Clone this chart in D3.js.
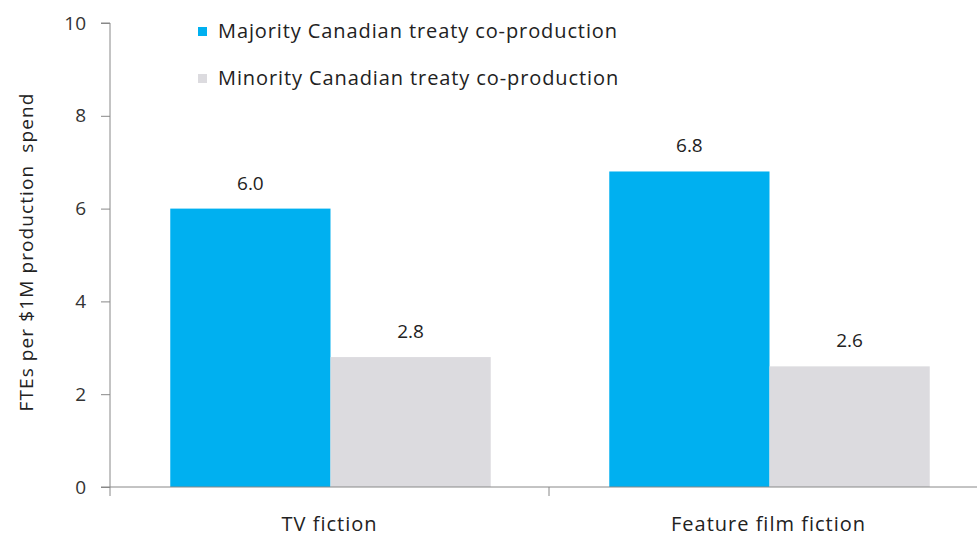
<!DOCTYPE html>
<html><head><meta charset="utf-8">
<script src="https://cdn.jsdelivr.net/npm/d3@7/dist/d3.min.js"></script>
<style>body{margin:0;background:#fff}svg{display:block}text{font-family:"Open Sans",sans-serif}</style>
</head><body><svg id="c" width="977" height="536"></svg>
<script>
const categories = ["TV fiction", "Feature film fiction"];
const seriesNames = ["Majority Canadian treaty co-production", "Minority Canadian treaty co-production"];
const majority = [6.0, 6.8];
const minority = [2.8, 2.6];
const yTicks = [0, 2, 4, 6, 8, 10];
const colors = ["#00B0F0", "#DCDBDF"];
const yTitle = "FTEs per $1M production  spend";

const svg = d3.select("#c");
const m = {l:110, r:-11, t:23, b:49};
const W = 977, H = 536;
const x = d3.scaleBand().domain(categories).range([m.l + 1, W - m.r + 1]).paddingInner(0.27).paddingOuter(0.135);
const x0 = d3.scaleBand().domain(categories).range([m.l, W - m.r]);
const y = d3.scaleLinear().domain([0, 10]).range([H - m.b, m.t]);
const xs = d3.scaleBand().domain([0,1]).range([0, x.bandwidth()]);
const series = [majority, minority];

series.forEach((vals, si) => {
  svg.append("g").selectAll("rect").data(categories).join("rect")
    .attr("x", d => x(d) + xs(si)).attr("width", xs.bandwidth())
    .attr("y", (d,i) => y(vals[i])).attr("height", (d,i) => y(0) - y(vals[i]))
    .attr("fill", colors[si]);
  svg.append("g").selectAll("text").data(categories).join("text")
    .attr("x", d => x(d) + xs(si) + xs.bandwidth()/2)
    .attr("y", (d,i) => y(vals[i]) - 19)
    .attr("text-anchor", "middle").attr("font-size", 19).attr("fill", "#222")
    .text((d,i) => d3.format(".1f")(vals[i]));
});

const ya = svg.append("g").attr("transform", `translate(${m.l},0)`)
  .call(d3.axisLeft(y).tickValues(yTicks).tickSize(9).tickPadding(15).tickFormat(d3.format("d")));
ya.select(".domain").attr("stroke", "#888").attr("d", `M-9,${y(10)}H0V${y(0)}`);
ya.selectAll(".tick line").attr("stroke", "#888");
ya.selectAll(".tick text").attr("font-size", 19).attr("fill", "#333").attr("font-family", "'Open Sans',sans-serif");

const xa = svg.append("g").attr("transform", `translate(0,${y(0)})`);
xa.append("line").attr("x1", m.l - 9).attr("x2", W).attr("y1", 0).attr("y2", 0).attr("stroke", "#888");
xa.selectAll("line.t").data([...categories, null]).join("line").attr("class","t")
  .attr("x1", (d,i) => m.l + i * x0.bandwidth()).attr("x2", (d,i) => m.l + i * x0.bandwidth())
  .attr("y1", 0).attr("y2", 9).attr("stroke", "#888");
xa.selectAll("text").data(categories).join("text")
  .attr("x", d => x0(d) + x0.bandwidth()/2).attr("y", 44)
  .attr("text-anchor", "middle").attr("font-size", 20).attr("letter-spacing", "1px")
  .attr("fill", "#222").text(d => d);

svg.append("text").attr("transform", `translate(33,${(y(0)+y(10))/2 - 3}) rotate(-90)`)
  .attr("text-anchor", "middle").attr("font-size", 19).attr("letter-spacing", "1.1px").attr("fill", "#222")
  .style("white-space", "pre").text(yTitle);

const lg = svg.append("g").selectAll("g").data(seriesNames).join("g")
  .attr("transform", (d,i) => `translate(198,${31 + i*47})`);
lg.append("rect").attr("x", 0).attr("y", -4).attr("width", 9).attr("height", 9).attr("fill", (d,i) => colors[i]);
lg.append("text").attr("x", 20).attr("y", 7).attr("font-size", 20).attr("letter-spacing", "0.9px")
  .attr("fill", "#222").text(d => d);
</script></body></html>
